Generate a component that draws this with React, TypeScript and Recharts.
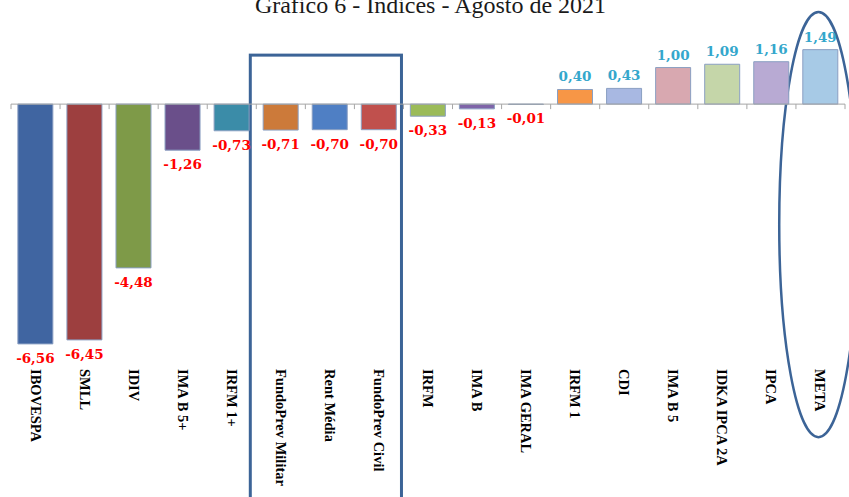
import React from 'react'
import { BarChart, Bar, Cell, XAxis, YAxis, LabelList, ReferenceLine, ReferenceArea } from 'recharts'

const categories = [
  'IBOVESPA', 'SMLL', 'IDIV', 'IMA B 5+', 'IRFM 1+', 'FundoPrev Militar', 'Rent Média', 'FundoPrev Civil',
  'IRFM', 'IMA B', 'IMA GERAL', 'IRFM 1', 'CDI', 'IMA B 5', 'IDKA IPCA 2A', 'IPCA', 'META',
]
const values = [-6.56, -6.45, -4.48, -1.26, -0.73, -0.71, -0.7, -0.7, -0.33, -0.13, -0.01, 0.4, 0.43, 1.0, 1.09, 1.16, 1.49]
const barColors = [
  '#4065A1', '#9D3F3F', '#7E9A48', '#6A4F8A', '#3B8CA8', '#CC7A3A', '#4F7FC4', '#C0504D',
  '#9BBB59', '#7E64A8', '#4F81BD', '#F79646', '#A8B8E2', '#D8A8B0', '#C5D6A9', '#B8AAD3', '#A7CAE6',
]
const highlighted = ['FundoPrev Militar', 'FundoPrev Civil']
const goal = 'META'

const data = categories.map((name, i) => ({ name, value: values[i] }))

const fmt = (v: number) => v.toFixed(2).replace('.', ',')

const CategoryTick = (props: any) => {
  const { x, y, payload } = props
  return (
    <text
      transform={`translate(${x},${y}) rotate(90)`}
      textAnchor="start"
      dominantBaseline="central"
      fontFamily="'Liberation Serif', serif"
      fontWeight="bold"
      fontSize={14.5}
      fill="#000"
    >
      {payload.value}
    </text>
  )
}

const ValueLabel = (props: any) => {
  const { x, y, width, height, value } = props
  const neg = value < 0
  const top = Math.min(y, y + height)
  const bottom = Math.max(y, y + height)
  return (
    <text
      x={x + width / 2}
      y={neg ? bottom + 14 : top - 13}
      textAnchor="middle"
      dominantBaseline="central"
      fontFamily="'DejaVu Serif', serif"
      fontWeight="bold"
      fontSize={13.5}
      fill={neg ? '#FF0000' : '#34A7CC'}
    >
      {fmt(value)}
    </text>
  )
}

// zero axis with small tick marks between the categories
const ZeroAxis = (props: any) => {
  const { x1, y1, x2 } = props
  const step = (x2 - x1) / categories.length
  return (
    <g>
      <line x1={x1} y1={y1} x2={x2} y2={y1} stroke="#A6A6A6" strokeWidth={1} />
      {categories.concat(['']).map((_, i) => (
        <line key={i} x1={x1 + i * step} y1={y1} x2={x1 + i * step} y2={y1 + 5} stroke="#A6A6A6" strokeWidth={1} />
      ))}
    </g>
  )
}

const BoxShape = (props: any) => {
  const { x, y, width, height } = props
  return <rect x={x - 6} y={y} width={width + 4} height={height} fill="none" stroke="#3C6497" strokeWidth={3} />
}

const EllipseShape = (props: any) => {
  const { x, y, width, height } = props
  return (
    <ellipse cx={x + width / 2 - 2} cy={y + height / 2} rx={width * 0.8} ry={height / 2} fill="none" stroke="#3C6497" strokeWidth={2.5} />
  )
}

export default function App() {
  return (
    <div style={{ position: 'absolute', left: 0, top: 0, width: 849, height: 497, overflow: 'hidden', background: '#fff' }}>
      <div
        style={{
          position: 'absolute',
          top: -7,
          left: 0,
          width: 861,
          textAlign: 'center',
          fontFamily: "'Liberation Serif', serif",
          fontSize: 24,
          lineHeight: '24px',
          color: '#1a1a1a',
        }}
      >
        Gráfico 6 - Índices - Agosto de 2021
      </div>
      <BarChart
        width={849}
        height={497}
        data={data}
        margin={{ top: 31, right: 4, bottom: 0, left: 11 }}
        barCategoryGap="14%"
      >
        <XAxis
          dataKey="name"
          height={137}
          axisLine={false}
          tickLine={false}
          tickSize={0}
          tickMargin={9}
          interval={0}
          tick={<CategoryTick />}
        />
        <YAxis hide domain={[-7, 2]} />
        <ReferenceLine y={0} shape={<ZeroAxis />} />
        <Bar dataKey="value" isAnimationActive={false} stroke="#8A9FC2" strokeWidth={1}>
          {data.map((d, i) => (
            <Cell key={d.name} fill={barColors[i]} />
          ))}
          <LabelList dataKey="value" content={<ValueLabel />} />
        </Bar>
        <ReferenceArea
          x1={highlighted[0]}
          x2={highlighted[1]}
          y1={1.34}
          y2={-12}
          ifOverflow="visible"
          shape={<BoxShape />}
        />
        <ReferenceArea x1={goal} x2={goal} y1={2.52} y2={-9.11} ifOverflow="visible" shape={<EllipseShape />} />
      </BarChart>
    </div>
  )
}
